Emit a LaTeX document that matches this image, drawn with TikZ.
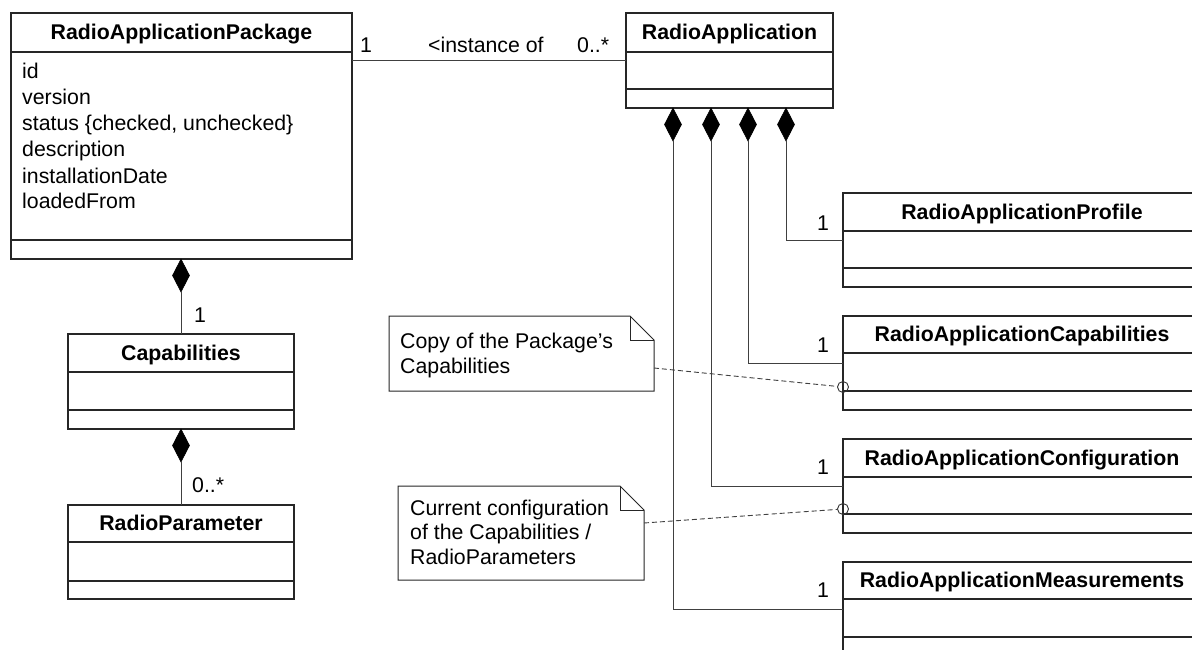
\documentclass[tikz,border=0pt]{standalone}
\usepackage{fontspec}
\setmainfont{Liberation Sans}
\usetikzlibrary{shapes.geometric}

\newcommand{\diagfont}{\fontsize{21.3}{25.7}\selectfont}

\tikzset{
  ink/.style={draw=black!85, line width=1.1pt},
  classbox/.style={ink, rectangle, inner sep=0pt, outer sep=0pt, fill=white},
  cname/.style={font=\diagfont\bfseries, inner sep=0pt, anchor=base},
  txt/.style={font=\diagfont, inner sep=0pt, anchor=base west},
  mult/.style={font=\diagfont, inner sep=0pt, anchor=base},
  comp/.style={diamond, fill=black, draw=black, line width=0.5pt, inner sep=0pt,
               outer sep=0pt, minimum width=17pt, minimum height=33pt, anchor=north},
  link/.style={draw=black!75, line width=1pt},
  tie/.style={draw=black!75, line width=0.9pt, dash pattern=on 5pt off 3pt},
  port/.style={circle, draw=black!80, line width=0.9pt, inner sep=0pt, minimum size=11pt},
  notebox/.style={rectangle, inner sep=0pt, outer sep=0pt},
  noteline/.style={draw=black!85, line width=1pt, line join=miter},
}

% class box: name, left, top, right, bottom, header line, divider line, title
\newcommand{\umlclass}[8]{%
  \node[classbox, minimum width={(#4-#2)*1pt}, minimum height={(#5-#3)*1pt}]
    (#1) at ({(#2+#4)/2},{(#3+#5)/2}) {};
  \draw[ink] (#2,#6) -- (#4,#6);
  \draw[ink] (#2,#7) -- (#4,#7);
  \node[cname] at ({(#2+#4)/2},{(#3+#6)/2+7}) {#8};
}

% UML note with a folded corner
\newcommand{\umlnote}[5]{%
  \node[notebox, minimum width={(#4-#2)*1pt}, minimum height={(#5-#3)*1pt}]
    (#1) at ({(#2+#4)/2},{(#3+#5)/2}) {};
  \draw[noteline] (#1.north west) -- ([xshift=-24pt]#1.north east)
    -- ([yshift=-24pt]#1.north east) -- (#1.south east) -- (#1.south west) -- cycle;
  \draw[noteline] ([xshift=-24pt]#1.north east) -- ([xshift=-24pt,yshift=-24pt]#1.north east)
    -- ([yshift=-24pt]#1.north east);
}

\begin{document}
\begin{tikzpicture}[x=1pt, y=-1pt]
  \clip (0,0) rectangle (1192,650);
  \fill[white] (0,0) rectangle (1192,650);

  % classes
  \umlclass{rap}{11}{13}{352}{259}{52}{240}{RadioApplicationPackage}
  \umlclass{ra}{626}{13}{833}{108}{52}{89}{RadioApplication}
  \umlclass{capab}{68}{334}{294}{429}{372}{410}{Capabilities}
  \umlclass{rparam}{68}{505}{294}{599}{542}{581}{RadioParameter}
  \umlclass{prof}{843}{193}{1201}{287}{231}{268}{RadioApplicationProfile}
  \umlclass{caps}{843}{316}{1201}{410}{353}{391}{RadioApplicationCapabilities}
  \umlclass{conf}{843}{439}{1201}{533}{477}{514}{RadioApplicationConfiguration}
  \umlclass{meas}{843}{562}{1201}{656}{599}{637}{RadioApplicationMeasurements}

  % attributes of the package
  \node[txt] at (22,79)  {id};
  \node[txt] at (22,105) {version};
  \node[txt] at (22,131) {status \{checked, unchecked\}};
  \node[txt] at (22,157) {description};
  \node[txt] at (22,183) {installationDate};
  \node[txt] at (22,208) {loadedFrom};

  % association package -- application
  \draw[link] (rap.east |- ra.west) -- (ra.west);
  \node[mult] at (366,53) {1};
  \node[txt] at (428,53) {<instance of};
  \node[txt] at (577,53) {0..*};

  % compositions on the left
  \node[comp] (dl1) at (181,259) {};
  \draw[link] (dl1.south) -- (capab.north);
  \node[mult] at (200,322) {1};
  \node[comp] (dl2) at (181,429) {};
  \draw[link] (dl2.south) -- (rparam.north);
  \node[txt] at (192,492) {0..*};

  % compositions of the application
  \node[comp] (d1) at (673,108) {};
  \node[comp] (d2) at (711,108) {};
  \node[comp] (d3) at (748,108) {};
  \node[comp] (d4) at (786,108) {};
  \draw[link] (d4.south) |- (prof.west);
  \draw[link] (d3.south) |- (caps.west);
  \draw[link] (d2.south) |- (conf.west);
  \draw[link] (d1.south) |- (meas.west);
  \node[mult] at (823,230) {1};
  \node[mult] at (823,352) {1};
  \node[mult] at (823,474) {1};
  \node[mult] at (823,597) {1};

  % notes
  \umlnote{n1}{389}{316}{654}{391}
  \node[txt] at (400,348) {Copy of the Package’s};
  \node[txt] at (400,373) {Capabilities};
  \umlnote{n2}{398}{486}{644}{580}
  \node[txt] at (410,515) {Current configuration};
  \node[txt] at (410,539) {of the Capabilities /};
  \node[txt] at (410,564) {RadioParameters};

  % note attachments
  \node[port] (c1) at (843,387) {};
  \node[port] (c2) at (843,509) {};
  \coordinate (t1) at (n1.east |- 0,368);
  \coordinate (t2) at (n2.east |- 0,523);
  \draw[tie] (t1) -- (c1);
  \draw[tie] (t2) -- (c2);
\end{tikzpicture}
\end{document}
